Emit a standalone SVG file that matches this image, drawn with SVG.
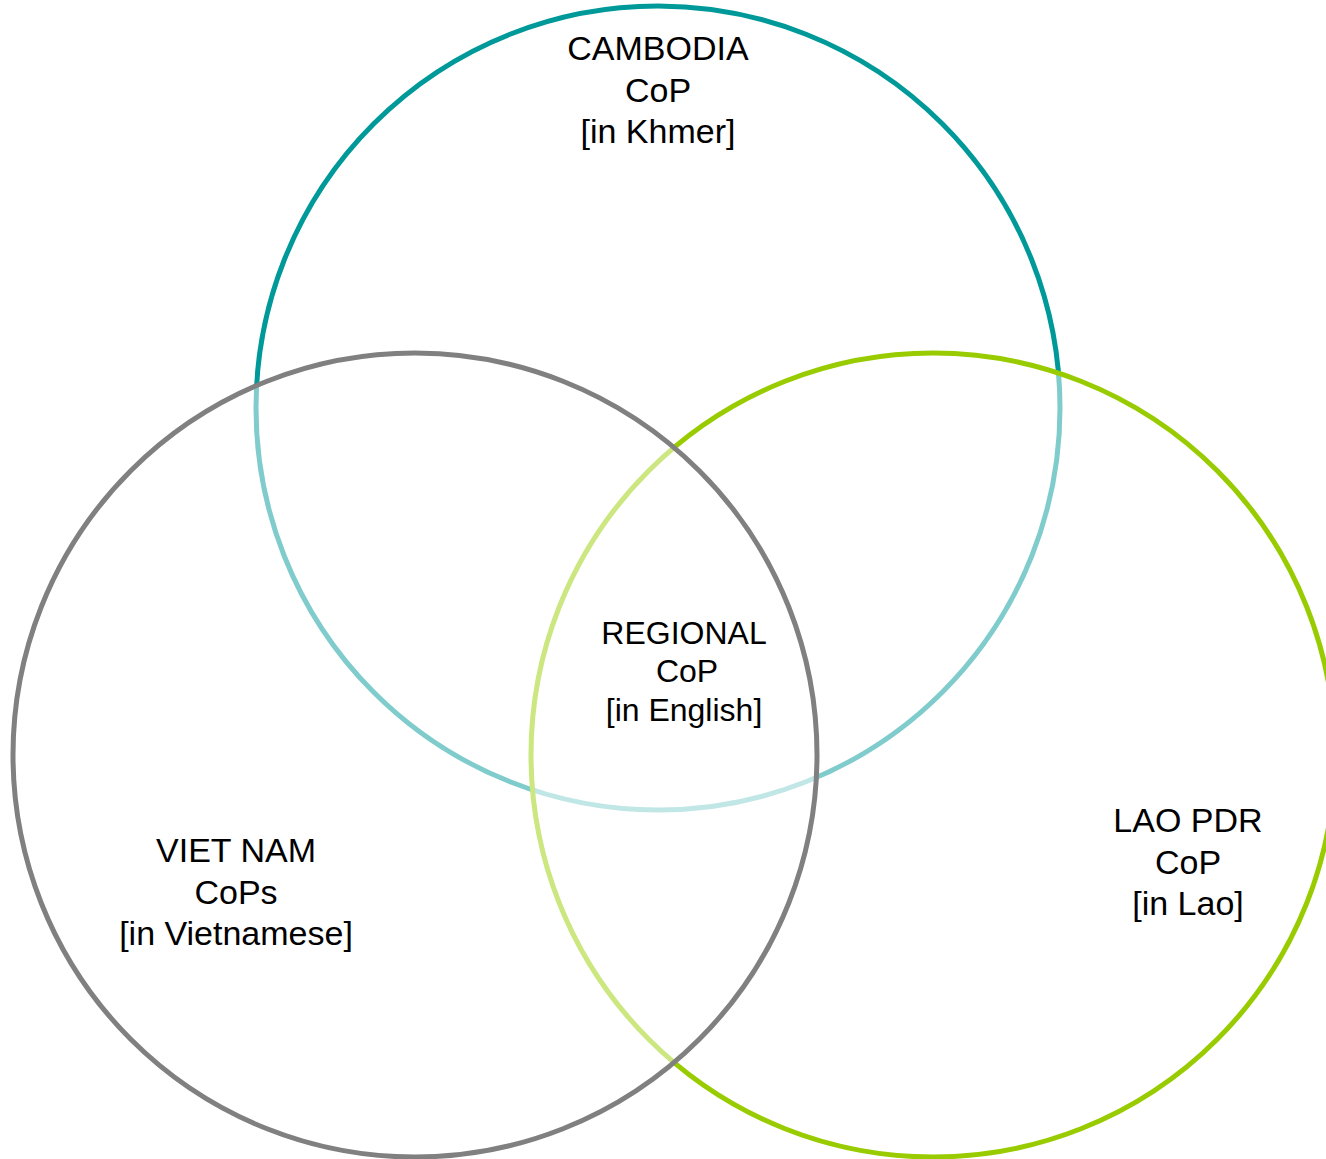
<svg xmlns="http://www.w3.org/2000/svg" width="1326" height="1159" viewBox="0 0 1326 1159">
<style>
.c{fill:#ffffff;fill-opacity:0.5;stroke-width:5}
.t{font-family:"Liberation Sans",Arial,sans-serif;font-size:34px;fill:#000;text-anchor:middle}
.r{font-size:32px}
</style>
<rect width="1326" height="1159" fill="#ffffff"/>
<g id="cambodia">
<circle class="c" cx="658" cy="408" r="402" stroke="#009999"/>
<text class="t" x="658" y="60">CAMBODIA</text>
<text class="t" x="658" y="101.5">CoP</text>
<text class="t" x="658" y="143">[in Khmer]</text>
</g>
<g id="lao">
<circle class="c" cx="933" cy="755" r="402" stroke="#99cc00"/>
<text class="t" x="1188" y="832">LAO PDR</text>
<text class="t" x="1188" y="873.5">CoP</text>
<text class="t" x="1188" y="915">[in Lao]</text>
</g>
<g id="vietnam">
<circle class="c" cx="415" cy="755" r="402" stroke="#808080"/>
<text class="t" x="236" y="862">VIET NAM</text>
<text class="t" x="236" y="903.5">CoPs</text>
<text class="t" x="236" y="945">[in Vietnamese]</text>
</g>
<g id="regional">
<text class="t r" x="684" y="643.5">REGIONAL</text>
<text class="t r" x="687" y="682">CoP</text>
<text class="t r" x="684" y="720.5">[in English]</text>
</g>
<g id="connectors"></g>
</svg>
